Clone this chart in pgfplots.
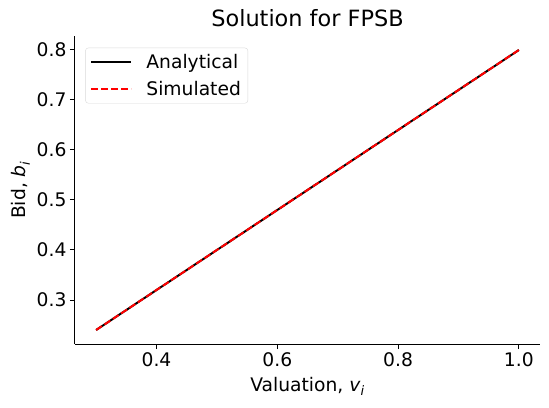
\documentclass[border=0pt]{standalone}
\usepackage{fontspec}
\setmainfont{DejaVu Sans}
\usepackage{pgfplots}
\pgfplotsset{compat=1.18}
\begin{document}
\begin{tikzpicture}
\path[use as bounding box] (-75bp,-64bp) rectangle (474bp,344bp);
\begin{axis}[
  at={(0,0)}, anchor=south west,
  scale only axis, width=465bp, height=308bp,
  xmin=0.265, xmax=1.035, ymin=0.212, ymax=0.828,
  axis x line*=bottom, axis y line*=left,
  axis line style={line width=1bp},
  xtick={0.4,0.6,0.8,1.0}, ytick={0.3,0.4,0.5,0.6,0.7,0.8},
  xticklabel style={/pgf/number format/.cd,fixed,fixed zerofill,precision=1},
  yticklabel style={/pgf/number format/.cd,fixed,fixed zerofill,precision=1},
  /pgf/number format/assume math mode=true,
  tick style={black, line width=1bp},
  major tick length=5bp,
  tick align=outside,
  ticklabel style={font=\fontsize{18.7bp}{21bp}\selectfont},
  xlabel={Valuation, \textit{v}\textsubscript{\textit{i}}},
  ylabel={Bid, \textit{b}\textsubscript{\textit{i}}},
  label style={font=\fontsize{18.7bp}{21bp}\selectfont},
  xlabel style={yshift=-4bp},
  title={Solution for FPSB},
  title style={font=\fontsize{22.4bp}{25bp}\selectfont},
  legend style={font=\fontsize{18.7bp}{21bp}\selectfont, draw=black!15, rounded corners=3bp, inner xsep=5bp, inner ysep=4bp, at={(0.022,0.962)}, anchor=north west, row sep=8bp},
  legend cell align=left,
  legend image code/.code={\draw[#1] (0bp,0bp) -- (40bp,0bp); \path (52bp,0bp);},
]
\addplot[black, line width=2bp] coordinates {
(0.30,0.240) (0.40,0.320) (0.50,0.400) (0.60,0.480) (0.70,0.560) (0.80,0.640) (0.90,0.720) (1.00,0.800)};
\addlegendentry{Analytical}
\addplot[red, line width=2bp, dash pattern=on 7bp off 3bp] coordinates {
(0.30,0.240) (0.40,0.320) (0.50,0.400) (0.60,0.480) (0.70,0.560) (0.80,0.640) (0.90,0.720) (1.00,0.800)};
\addlegendentry{Simulated}
\end{axis}
\end{tikzpicture}
\end{document}
